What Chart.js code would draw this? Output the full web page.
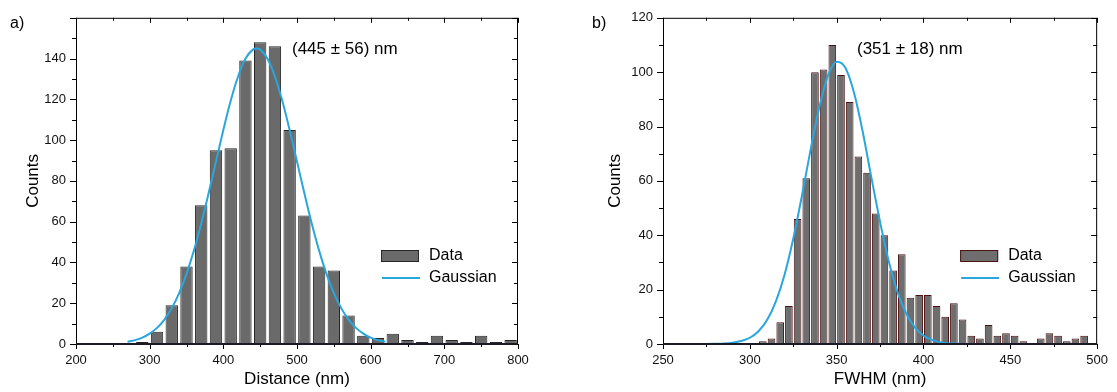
<!DOCTYPE html>
<html>
<head>
<meta charset="utf-8">
<script src="https://cdn.jsdelivr.net/npm/chart.js@4"></script>
<style>
  html, body { margin: 0; padding: 0; background: #fff; }
  body { width: 1117px; height: 392px; position: relative; overflow: hidden; }
  .panel { position: absolute; top: 0; height: 392px; }
  #panel-a { left: 0; width: 558px; }
  #panel-b { left: 558px; width: 559px; }
</style>
</head>
<body>
<div class="panel" id="panel-a"><canvas id="chart-a" width="558" height="392"></canvas></div>
<div class="panel" id="panel-b"><canvas id="chart-b" width="559" height="392"></canvas></div>
<script>
// a) distance histogram (20 nm bins, centres)
const distBins = [290, 310, 330, 350, 370, 390, 410, 430, 450, 470, 490, 510, 530,
                  550, 570, 590, 610, 630, 650, 670, 690, 710, 730, 750, 770, 790];
const distCounts = [1, 6, 19, 38, 68, 95, 96, 139, 148, 146, 105, 63, 38,
                    36, 14, 4, 3, 5, 2, 1, 4, 2, 1, 4, 1, 2];
// gaussian curve
const distFitX = [270, 280, 290, 300, 310, 320, 330, 340, 350, 360, 370, 380, 390, 400,
                  410, 420, 430, 440, 445, 450, 460, 470, 480, 490, 500, 510, 520, 530,
                  540, 550, 560, 570, 580, 590, 600, 610, 620];
const distFitY = [1.1, 1.9, 3.1, 5.1, 7.9, 12.0, 17.6, 25.0, 34.4, 45.8, 59.1, 73.9, 89.5, 105.0,
                  119.3, 131.2, 139.9, 144.4, 145.0, 144.4, 139.9, 131.2, 119.3, 105.0, 89.5, 73.9, 59.1, 45.8,
                  34.4, 25.0, 17.6, 12.0, 7.9, 5.1, 3.1, 1.9, 1.1];

// b) FWHM histogram (5 nm bins, centres)
const fwhmBins = [307.5, 312.5, 317.5, 322.5, 327.5, 332.5, 337.5, 342.5, 347.5, 352.5,
                  357.5, 362.5, 367.5, 372.5, 377.5, 382.5, 387.5, 392.5, 397.5, 402.5,
                  407.5, 412.5, 417.5, 422.5, 427.5, 432.5, 437.5, 442.5, 447.5, 452.5,
                  457.5, 462.5, 467.5, 472.5, 477.5, 482.5, 487.5, 492.5];
const fwhmCounts = [1, 2, 8, 14, 46, 61, 100, 101, 110, 99,
                    89, 69, 63, 48, 40, 27, 33, 17, 18, 18,
                    14, 10, 15, 9, 3, 2, 7, 3, 4, 3,
                    1, 0, 2, 4, 3, 1, 2, 3];
const fwhmFitX = [250, 260, 270, 280, 285, 290, 295, 300, 305, 310, 315, 320, 325, 330, 335,
                  340, 345, 350, 355, 360, 365, 370, 375, 380, 385, 390, 395, 400, 405,
                  410, 420, 430, 440, 450];
const fwhmFitY = [0, 0, 0, 0.1, 0.2, 0.5, 1.1, 2.3, 4.7, 8.9, 15.7, 25.5, 38.7, 54.6, 71.5,
                  87.1, 98.7, 103.8, 101.6, 92.4, 78.1, 61.2, 44.9, 30.4, 19.2, 11.3, 6.1, 3.1, 1.5,
                  0.6, 0.1, 0, 0, 0];

const FONT = "'Liberation Sans', Arial, sans-serif";
const fitBlue = '#2aa6df';

function toXY(xs, ys) {
  return xs.map((x, i) => ({ x: x, y: ys[i] }));
}

// box round the plot, with minor/major ticks (out on bottom/left, in on top/right)
const frameTicks = {
  id: 'frameTicks',
  afterDatasetsDraw(chart, args, opts) {
    const ctx = chart.ctx;
    const a = chart.chartArea;
    const xs = chart.scales.x, ys = chart.scales.y;
    ctx.save();
    ctx.strokeStyle = '#000';
    ctx.lineWidth = 1;
    ctx.strokeRect(a.left + 0.5, a.top + 0.5, a.right - a.left - 1, a.bottom - a.top);

    ctx.beginPath();
    for (let v = xs.min; v <= xs.max + 1e-6; v += opts.xMinor) {
      const px = Math.round(xs.getPixelForValue(v)) + 0.5;
      const major = Math.abs(v / opts.xMajor - Math.round(v / opts.xMajor)) < 1e-6;
      const len = major ? 5 : 3;
      ctx.moveTo(px, a.bottom);
      ctx.lineTo(px, a.bottom + len);
      ctx.moveTo(px, a.top);
      ctx.lineTo(px, a.top + len);
    }
    for (let v = ys.min; v <= ys.max + 1e-6; v += opts.yMinor) {
      const py = Math.round(ys.getPixelForValue(v)) + 0.5;
      const major = Math.abs(v / opts.yMajor - Math.round(v / opts.yMajor)) < 1e-6;
      const len = major ? 6 : 4;
      ctx.moveTo(a.left - len, py);
      ctx.lineTo(a.left, py);
      ctx.moveTo(a.right - len, py);
      ctx.lineTo(a.right, py);
    }
    ctx.stroke();

    // heavier base line
    ctx.beginPath();
    ctx.lineWidth = 2;
    ctx.strokeStyle = '#1b1b24';
    ctx.moveTo(a.left, a.bottom);
    ctx.lineTo(a.right, a.bottom);
    ctx.stroke();
    ctx.restore();
  }
};

// legend, fit result and panel letter
const annotate = {
  id: 'annotate',
  afterDraw(chart, args, opts) {
    const ctx = chart.ctx;
    const a = chart.chartArea;
    const bars = chart.data.datasets[0], fit = chart.data.datasets[1];
    ctx.save();
    ctx.fillStyle = '#000';
    ctx.textBaseline = 'middle';
    ctx.textAlign = 'left';

    ctx.font = '16px ' + FONT;
    ctx.fillText(opts.panel, opts.panelX, 24);

    ctx.font = '17px ' + FONT;
    ctx.fillText(opts.result, opts.resultX, 49);

    const lx = a.right - 137;
    ctx.fillStyle = bars.backgroundColor;
    ctx.fillRect(lx, 250, 38, 11);
    ctx.strokeStyle = bars.borderColor;
    ctx.lineWidth = 1;
    ctx.strokeRect(lx + 0.5, 250.5, 37, 11);
    ctx.beginPath();
    ctx.strokeStyle = fit.borderColor;
    ctx.lineWidth = 2;
    ctx.moveTo(lx + 1, 278);
    ctx.lineTo(lx + 39, 278);
    ctx.stroke();

    ctx.fillStyle = '#000';
    ctx.font = '16px ' + FONT;
    ctx.fillText(bars.label, lx + 48, 256);
    ctx.fillText(fit.label, lx + 48, 278);
    ctx.restore();
  }
};

function makeChart(id, cfg) {
  return new Chart(document.getElementById(id), {
    type: 'bar',
    data: {
      datasets: [
        {
          label: 'Data',
          data: toXY(cfg.bins, cfg.counts),
          backgroundColor: cfg.barFill,
          borderColor: cfg.barEdge,
          borderWidth: 1,
          categoryPercentage: 1,
          barPercentage: cfg.barPct,
          order: 2
        },
        {
          type: 'line',
          label: 'Gaussian',
          data: toXY(cfg.fitX, cfg.fitY),
          borderColor: fitBlue,
          borderWidth: 2,
          pointRadius: 0,
          cubicInterpolationMode: 'monotone',
          fill: false,
          order: 1
        }
      ]
    },
    options: {
      responsive: false,
      animation: false,
      devicePixelRatio: 1,
      layout: { padding: { top: 15, right: cfg.padRight, left: 0, bottom: 0 } },
      plugins: {
        legend: { display: false },
        tooltip: { enabled: false },
        frameTicks: cfg.ticks,
        annotate: cfg.notes
      },
      scales: {
        x: {
          type: 'linear',
          min: cfg.xMin,
          max: cfg.xMax,
          offset: false,
          grid: { display: false, drawTicks: false, offset: false },
          border: { display: false },
          ticks: { stepSize: cfg.ticks.xMajor, padding: 9, color: '#111', font: { family: FONT, size: 13 }, maxRotation: 0 },
          title: { display: true, text: cfg.xTitle, color: '#000', font: { family: FONT, size: 17 }, padding: { top: 0, bottom: 2 } },
          afterFit(scale) { scale.height = 48; }
        },
        y: {
          min: 0,
          max: cfg.yMax,
          grid: { display: false, drawTicks: false },
          border: { display: false },
          ticks: {
            stepSize: cfg.ticks.yMajor,
            padding: 10,
            color: '#111',
            font: { family: FONT, size: 13 },
            callback: (v) => (v > cfg.yLabelMax ? '' : v)
          },
          title: { display: true, text: 'Counts', color: '#000', font: { family: FONT, size: 17 }, padding: { top: cfg.yTitlePad, bottom: 0 } },
          afterFit(scale) { scale.width = cfg.yWidth; }
        }
      }
    },
    plugins: [frameTicks, annotate]
  });
}

makeChart('chart-a', {
  bins: distBins, counts: distCounts, fitX: distFitX, fitY: distFitY,
  barFill: '#6a6a6a', barEdge: '#262626', barPct: 0.84,
  xMin: 200, xMax: 800, yMax: 160, yLabelMax: 140,
  xTitle: 'Distance (nm)', yWidth: 76, yTitlePad: 23, padRight: 40,
  ticks: { xMajor: 100, xMinor: 50, yMajor: 20, yMinor: 10 },
  notes: { panel: 'a)', panelX: 10, result: '(445 \u00b1 56) nm', resultX: 292 }
});

makeChart('chart-b', {
  bins: fwhmBins, counts: fwhmCounts, fitX: fwhmFitX, fitY: fwhmFitY,
  barFill: '#6e6e6e', barEdge: '#4a1212', barPct: 0.88,
  xMin: 250, xMax: 500, yMax: 120, yLabelMax: 120,
  xTitle: 'FWHM (nm)', yWidth: 105, yTitlePad: 47, padRight: 13,
  ticks: { xMajor: 50, xMinor: 25, yMajor: 20, yMinor: 10 },
  notes: { panel: 'b)', panelX: 34, result: '(351 \u00b1 18) nm', resultX: 299 }
});
</script>
</body>
</html>
